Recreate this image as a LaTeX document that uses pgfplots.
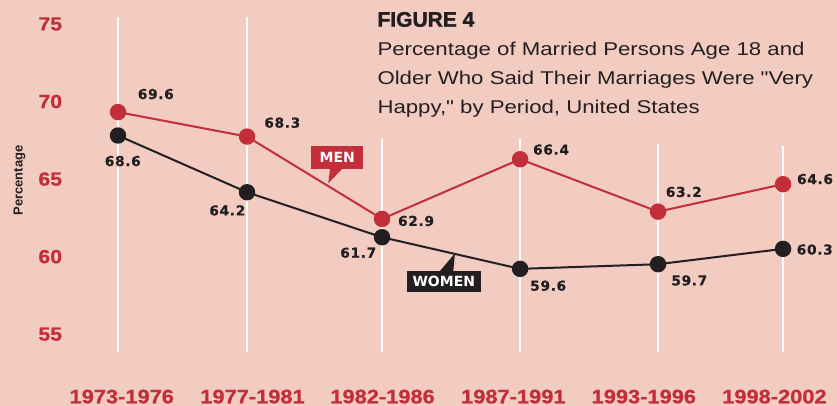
\documentclass[border=0pt]{standalone}
\usepackage{fontspec}
\usepackage{pgfplots}
\pgfplotsset{compat=1.18}
\setmainfont{Liberation Sans}
\newfontfamily\tickfont[FakeStretch=1.12, BoldFeatures={FakeBold=0.8}]{Liberation Sans}
\newfontfamily\heavyfont[BoldFeatures={FakeBold=1.6}]{Liberation Sans}
\newfontfamily\subfont[FakeStretch=1.2]{Liberation Sans}
\newfontfamily\lblfont[LetterSpace=5, BoldFeatures={FakeBold=0.6}]{DejaVu Sans}
\newfontfamily\calfont{DejaVu Sans}
\definecolor{bgpink}{HTML}{F2CBC1}
\definecolor{myred}{HTML}{C22E3A}
\definecolor{myblack}{HTML}{231F20}
\tikzset{lbl/.style={font=\lblfont\bfseries\fontsize{13.7}{14}\selectfont,
    text=myblack, inner sep=0pt, anchor=center}}

\begin{document}
\begin{tikzpicture}
\fill[bgpink] (0,0) rectangle (837pt,-406pt);
\begin{axis}[
  at={(70pt,-352pt)}, anchor=south west,
  scale only axis, width=766pt, height=335pt,
  xmin=-0.361, xmax=5.398, ymin=53.85, ymax=75.45,
  axis line style={draw=none},
  major tick length=0pt,
  xtick={0.028,1.011,1.989,2.972,3.953,4.935},
  xticklabels={1973-1976,1977-1981,1982-1986,1987-1991,1993-1996,1998-2002},
  ytick={55,60,65,70,75},
  yticklabels={55,60,65,70,75},
  xticklabel style={font=\tickfont\bfseries\fontsize{19.5}{20}\selectfont,
    text=myred, anchor=north, inner sep=0pt, yshift=-37.5pt},
  yticklabel style={font=\tickfont\bfseries\fontsize{19}{20}\selectfont,
    text=myred, anchor=east, inner sep=0pt, xshift=-7.7pt},
  clip=false,
]
% white vertical guides
\draw[white, line width=1.5pt] (axis cs:0,53.85) -- (axis cs:0,75.45);
\draw[white, line width=1.5pt] (axis cs:0.970,53.85) -- (axis cs:0.970,75.45);
\draw[white, line width=1.5pt] (axis cs:1.985,53.85) -- (axis cs:1.985,67.59);
\draw[white, line width=1.5pt] (axis cs:3.023,53.85) -- (axis cs:3.023,67.59);
\draw[white, line width=1.5pt] (axis cs:4.060,53.85) -- (axis cs:4.060,67.27);
\draw[white, line width=1.5pt] (axis cs:5,53.85) -- (axis cs:5,67.14);

% women
\addplot[myblack, line width=2pt, mark=*, mark size=7.2pt,
  mark options={fill=myblack, draw=none}] coordinates {
  (0,67.81) (0.970,64.15) (1.985,61.25) (3.023,59.21) (4.060,59.51) (5,60.50)
};
% men
\addplot[myred, line width=2pt, mark=*, mark size=7.2pt,
  mark options={fill=myred, draw=none}] coordinates {
  (0,69.32) (0.970,67.74) (1.985,62.43) (3.023,66.28) (4.060,62.90) (5,64.67)
};

% value labels
\node[lbl, xshift=37.8pt, yshift=18pt] at (axis cs:0,69.32) {69.6};
\node[lbl, xshift=35.3pt, yshift=13.9pt] at (axis cs:0.970,67.74) {68.3};
\node[lbl, xshift=34pt, yshift=-2pt] at (axis cs:1.985,62.43) {62.9};
\node[lbl, xshift=31pt, yshift=9.6pt] at (axis cs:3.023,66.28) {66.4};
\node[lbl, xshift=25.8pt, yshift=19.7pt] at (axis cs:4.060,62.90) {63.2};
\node[lbl, xshift=32pt, yshift=5.1pt] at (axis cs:5,64.67) {64.6};
\node[lbl, xshift=4.8pt, yshift=-25.6pt] at (axis cs:0,67.81) {68.6};
\node[lbl, xshift=-19.7pt, yshift=-18.2pt] at (axis cs:0.970,64.15) {64.2};
\node[lbl, xshift=-23.8pt, yshift=-15.5pt] at (axis cs:1.985,61.25) {61.7};
\node[lbl, xshift=28.1pt, yshift=-16.8pt] at (axis cs:3.023,59.21) {59.6};
\node[lbl, xshift=31.3pt, yshift=-16.2pt] at (axis cs:4.060,59.51) {59.7};
\node[lbl, xshift=31.7pt, yshift=-0.7pt] at (axis cs:5,60.50) {60.3};
\end{axis}

% callouts
\fill[myred] (311pt,-146pt) rectangle (363.3pt,-169.3pt);
\fill[myred] (330pt,-169pt) -- (328.3pt,-183.3pt) -- (342pt,-169pt) -- cycle;
\node[text=white, inner sep=0pt, font=\calfont\bfseries\fontsize{14}{14}\selectfont]
  at (337.2pt,-157.7pt) {MEN};
\fill[myblack] (406.7pt,-270.7pt) rectangle (481pt,-291.7pt);
\fill[myblack] (440pt,-271pt) -- (455pt,-253.3pt) -- (453.3pt,-271pt) -- cycle;
\node[text=white, inner sep=0pt, font=\calfont\bfseries\fontsize{14}{14}\selectfont]
  at (443.8pt,-281.2pt) {WOMEN};

% title
\node[anchor=base west, inner sep=0pt, text=myblack,
  font=\heavyfont\bfseries\fontsize{21}{21}\selectfont] at (377.3pt,-26.7pt) {FIGURE 4};
\node[anchor=base west, inner sep=0pt, text=myblack,
  font=\subfont\fontsize{18.5}{19}\selectfont] at (377.3pt,-55.7pt)
  {Percentage of Married Persons Age 18 and};
\node[anchor=base west, inner sep=0pt, text=myblack,
  font=\subfont\fontsize{18.5}{19}\selectfont] at (377.3pt,-84.3pt)
  {Older Who Said Their Marriages Were "Very};
\node[anchor=base west, inner sep=0pt, text=myblack,
  font=\subfont\fontsize{18.5}{19}\selectfont] at (377.3pt,-113.3pt)
  {Happy," by Period, United States};

\node[rotate=90, inner sep=0pt, text=myblack,
  font=\bfseries\fontsize{13}{13}\selectfont] at (19.5pt,-180.5pt) {Percentage};

\pgfresetboundingbox
\path (0,0) rectangle (837pt,-406pt);
\end{tikzpicture}
\end{document}
